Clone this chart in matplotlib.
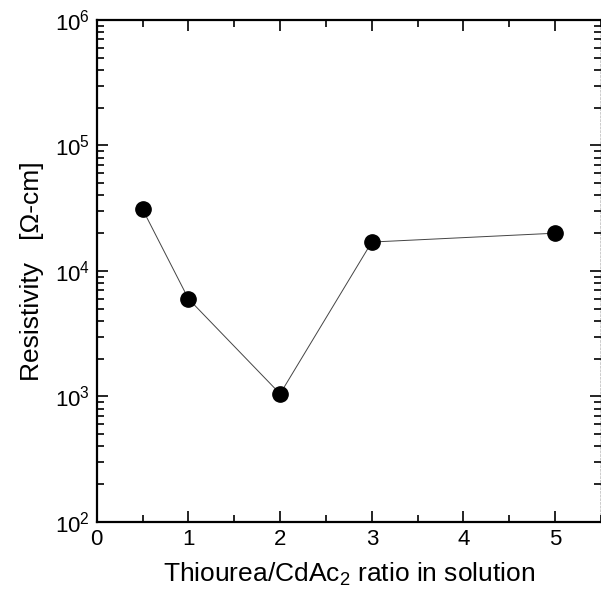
import matplotlib
matplotlib.use('Agg')
import matplotlib.pyplot as plt
from matplotlib.ticker import LogLocator, MultipleLocator, NullFormatter

# data
ratio = [0.5, 1, 2, 3, 5]
resistivity = [3.1e4, 6.0e3, 1.05e3, 1.7e4, 2.0e4]

plt.rcParams['font.family'] = ['Liberation Sans', 'DejaVu Sans']
plt.rcParams['mathtext.fontset'] = 'custom'
plt.rcParams['mathtext.rm'] = 'Liberation Sans'
plt.rcParams['mathtext.it'] = 'Liberation Sans'


def main():
    fig = plt.figure(figsize=(6.01, 5.97), dpi=100)
    ax = fig.add_axes([0.161, 0.1256, 0.839, 0.841])

    ax.plot(ratio, resistivity, '-', color='#444444', linewidth=0.7, zorder=1)
    ax.plot(ratio, resistivity, 'o', color='black', markersize=11, zorder=2)

    ax.set_yscale('log')
    ax.set_ylim(1e2, 1e6)
    ax.set_xlim(0, 5.5)

    ax.xaxis.set_major_locator(MultipleLocator(1))
    ax.xaxis.set_minor_locator(MultipleLocator(0.5))
    ax.yaxis.set_major_locator(LogLocator(base=10, numticks=10))
    ax.yaxis.set_minor_locator(LogLocator(base=10, subs=range(2, 10), numticks=20))
    ax.yaxis.set_minor_formatter(NullFormatter())

    ax.tick_params(which='both', direction='in', top=True, right=True,
                   labelsize=16, width=1.2)
    ax.tick_params(which='major', length=8, pad=5)
    ax.tick_params(which='minor', length=5)

    for s in ['left', 'bottom', 'top']:
        ax.spines[s].set_linewidth(1.6)
    ax.spines['right'].set_linewidth(1.0)
    ax.spines['right'].set_linestyle(':')

    ax.set_xlabel('Thiourea/CdAc$_2$ ratio in solution', fontsize=19, labelpad=8)
    ax.set_ylabel('Resistivity   [\u03a9-cm]', fontsize=19, labelpad=8)

    fig.savefig('out.png', dpi=100)


if __name__ == '__main__':
    main()
